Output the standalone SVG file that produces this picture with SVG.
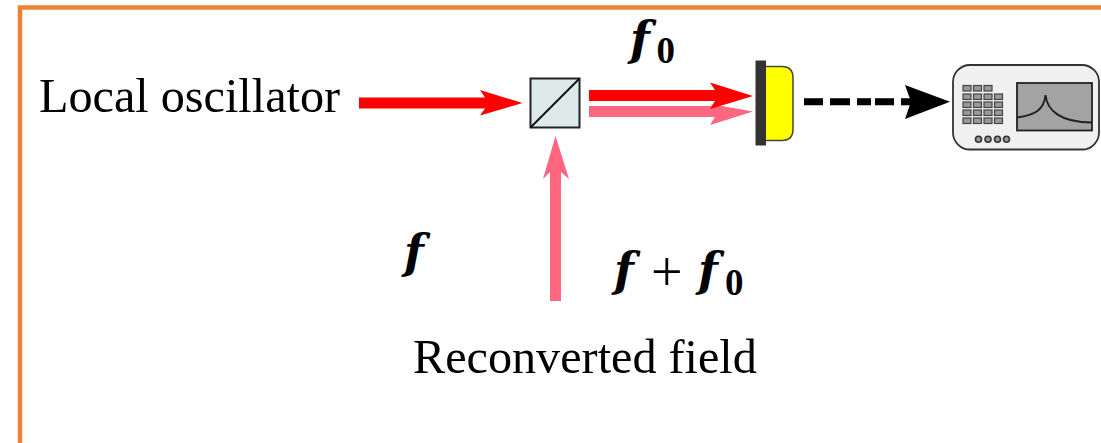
<svg xmlns="http://www.w3.org/2000/svg" width="1101" height="443" viewBox="0 0 1101 443">
<style>
.t{font-family:"Liberation Serif",serif;font-size:48.2px;fill:#000}
.m{font-family:"DejaVu Serif",serif;font-style:italic;font-weight:bold;font-size:46px;fill:#000}
.s{font-family:"Liberation Serif",serif;font-weight:bold;font-size:37px;fill:#000}
.p{font-family:"Liberation Serif",serif;font-size:56px;fill:#000}
.red{fill:#ff0000}
.pink{fill:#ff6680}
.b{fill:#999;stroke:#444;stroke-width:1.200}
.c{fill:#999;stroke:#333;stroke-width:1.600}
</style>
<rect width="1101" height="443" fill="#fff"/>
<path d="M20 443V7.500H1101" fill="none" stroke="#ef8133" stroke-width="4.500"/>
<g id="connectors">
<polygon class="red" points="359,97.500 485,97.500 480,90 522.500,103 480,115.500 485,108.500 359,108.500"/>
<polygon class="pink" points="589,106 715,106 710,104 753,111.500 710,125 715,117 589,117"/>
<polygon class="red" points="589,90 715,90 710,82.500 753,96 710,109 715,101 589,101"/>
<polygon class="pink" points="550,301 550,172 543,179 555.500,136 569,179 561,172 561,301"/>
<path d="M804 101.700H823M830 101.700H850M857 101.700H871M875 101.700H894M901 101.700H912" fill="none" stroke="#000" stroke-width="7"/>
<polygon fill="#000" points="905,85 950,101.700 905,119 911,101.700"/>
</g>
<g id="splitter">
<rect x="530.500" y="78.500" width="49" height="49" fill="#deeaea" stroke="#222" stroke-width="2"/>
<path d="M530.500 127.500L579.500 78.500" stroke="#111" stroke-width="2"/>
</g>
<g id="detector">
<path d="M765 66.500H782Q793 66.500 793 78V129Q793 140.500 782 140.500H765Z" fill="#ffff00" stroke="#444" stroke-width="1.500"/>
<rect x="755.500" y="60.500" width="10.500" height="85" fill="#333"/>
</g>
<g id="analyzer">
<rect x="953" y="65" width="146" height="84.500" rx="17" fill="#f0f0f0" stroke="#333" stroke-width="1.800"/>
<g>
<rect class="b" x="963" y="85.500" width="8" height="5.500"/><rect class="b" x="973.500" y="85.500" width="8" height="5.500"/><rect class="b" x="984" y="85.500" width="8" height="5.500"/>
<rect class="b" x="963" y="94" width="8" height="5.500"/><rect class="b" x="973.500" y="94" width="8" height="5.500"/><rect class="b" x="984" y="94" width="8" height="5.500"/><rect class="b" x="994.500" y="94" width="8" height="5.500"/>
<rect class="b" x="963" y="102" width="8" height="5.500"/><rect class="b" x="973.500" y="102" width="8" height="5.500"/><rect class="b" x="984" y="102" width="8" height="5.500"/><rect class="b" x="994.500" y="102" width="8" height="5.500"/>
<rect class="b" x="963" y="110" width="8" height="5.500"/><rect class="b" x="973.500" y="110" width="8" height="5.500"/><rect class="b" x="984" y="110" width="8" height="5.500"/><rect class="b" x="994.500" y="110" width="8" height="5.500"/>
<rect class="b" x="963" y="118" width="8" height="5.500"/><rect class="b" x="973.500" y="118" width="8" height="5.500"/><rect class="b" x="984" y="118" width="8" height="5.500"/><rect class="b" x="994.500" y="118" width="8" height="5.500"/>
</g>
<circle class="c" cx="978.500" cy="139.300" r="3"/><circle class="c" cx="988" cy="139.300" r="3"/><circle class="c" cx="997.500" cy="139.300" r="3"/><circle class="c" cx="1006.500" cy="139.300" r="3"/>
<rect x="1017" y="83" width="75" height="47.500" fill="#a3a3a3" stroke="#222" stroke-width="1.800"/>
<path d="M1017 117.500C1035 115 1044 110 1045.500 95C1047 110 1060 122.500 1092 122.500" fill="none" stroke="#222" stroke-width="2"/>
</g>
<g id="labels">
<text class="t" x="39" y="112">Local oscillator</text>
<text class="t" x="413" y="373">Reconverted field</text>
<text class="m" x="630" y="55">f</text><text class="s" x="656.500" y="63">0</text>
<text class="m" x="404" y="268">f</text>
<text class="m" x="614" y="286">f</text><text class="p" x="651" y="291">+</text><text class="m" x="698" y="286">f</text><text class="s" x="725" y="295">0</text>
</g>
</svg>
